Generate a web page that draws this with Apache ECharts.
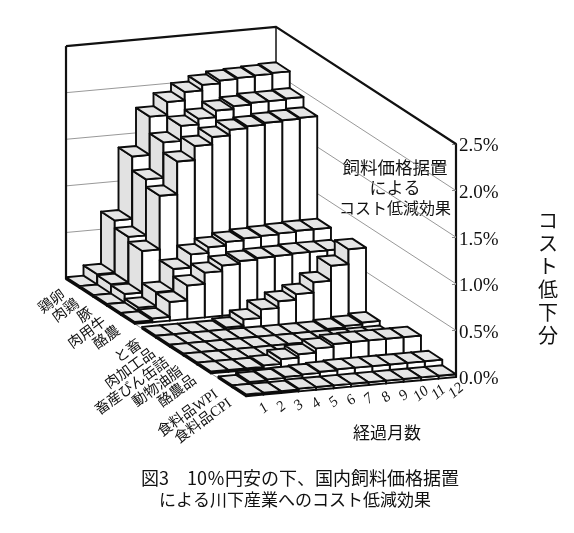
<!DOCTYPE html>
<html><head><meta charset="utf-8">
<style>html,body{margin:0;padding:0;background:#fff}#c{width:574px;height:533px}</style>
<script src="https://cdn.jsdelivr.net/npm/echarts@6/dist/echarts.min.js"></script>
</head><body><div id="c"></div>
<script>
const months = [1,2,3,4,5,6,7,8,9,10,11,12];
const rowNames = ['鶏卵','肉鶏','豚','肉用牛','酪農','と畜','肉加工品','畜産びん缶詰','動物油脂','酪農品','食料品WPI','食料品CPI'];
const yTicks = [0,0.5,1,1.5,2,2.5];
const eggs      = [0.02,0.13,0.69,1.36,1.77,1.91,2.00,2.06,2.09,2.10,2.11,2.12];
const broiler   = [0.02,0.12,0.61,1.21,1.59,1.75,1.81,1.88,1.91,1.93,1.93,1.94];
const pork      = [0.02,0.11,0.555,1.13,1.48,1.63,1.71,1.77,1.79,1.81,1.82,1.83];
const beef      = [0.02,0.06,0.21,0.44,0.58,0.64,0.68,0.70,0.71,0.72,0.73,0.73];
const dairyFarm = [0.02,0.04,0.20,0.36,0.48,0.54,0.57,0.585,0.59,0.60,0.60,0.60];
const slaughter = [0.02,0.02,0.02,0.02,0.04,0.11,0.20,0.27,0.33,0.44,0.60,0.76];
const meatProc  = [0.02,0.02,0.02,0.02,0.02,0.02,0.02,0.02,0.02,0.035,0.05,0.07];
const canned    = [0.02,0.02,0.02,0.02,0.02,0.02,0.02,0.02,0.02,0.02,0.02,0.02];
const animalFat = [0.02,0.02,0.02,0.02,0.02,0.02,0.02,0.02,0.02,0.02,0.02,0.02];
const dairyProd = [0.02,0.02,0.02,0.035,0.085,0.12,0.165,0.195,0.20,0.20,0.20,0.20];
const foodWpi   = [0.02,0.04,0.05,0.06,0.07,0.08,0.09,0.09,0.09,0.09,0.09,0.09];
const foodCpi   = [0.02,0.02,0.02,0.03,0.03,0.03,0.03,0.03,0.03,0.03,0.03,0.03];
const table = [eggs,broiler,pork,beef,dairyFarm,slaughter,meatProc,canned,animalFat,dairyProd,foodWpi,foodCpi];

// oblique projection parameters
const RX = 13.74, RY = 8.94, MSLOPE = 1.6, GAP = 0.55;
const TOTAL = 12 + 2*GAP;
const depthOf = r => r + (r >= 5 ? GAP : 0) + (r >= 10 ? GAP : 0);
function proj(api, m, depth, v){
  const p = api.coord([m, v]), D = TOTAL - depth;
  return [p[0] - D*RX, p[1] + (12-m)*MSLOPE - D*RY];
}
const LINE = '#0c0c0c', SERIF = '"Liberation Serif","Noto Sans CJK JP",serif', JP = '"Noto Sans CJK JP",sans-serif';

const bars = [];
table.forEach((vals, r) => { for (let i = vals.length-1; i >= 0; i--) bars.push([months[i], r, vals[i]]); });

function renderBar(params, api){
  const m = api.value(0), r = api.value(1), v = api.value(2);
  const d0 = depthOf(r), d1 = d0 + 1, m0 = m-1, m1 = m;
  const P = (mm,dd,vv) => proj(api,mm,dd,vv);
  const st = f => ({fill:f, stroke:LINE, lineWidth:1.9, lineJoin:'round'});
  return {type:'group', children:[
    {type:'polygon', shape:{points:[P(m0,d0,0),P(m0,d1,0),P(m0,d1,v),P(m0,d0,v)]}, style:st('#e2e2e2')},
    {type:'polygon', shape:{points:[P(m0,d1,0),P(m1,d1,0),P(m1,d1,v),P(m0,d1,v)]}, style:st('#ffffff')},
    {type:'polygon', shape:{points:[P(m0,d0,v),P(m1,d0,v),P(m1,d1,v),P(m0,d1,v)]}, style:st('#e6e6e6')}
  ]};
}
function renderWalls(params, api){
  const v = api.value(0), P = (m,d,vv) => proj(api,m,d,vv);
  const isTop = v === 2.5;
  if (v === 0) {
    const ch = [5, 10].map(r => ({type:'line', shape:{x1:P(0,depthOf(r)-GAP,0)[0], y1:P(0,depthOf(r)-GAP,0)[1], x2:P(0,depthOf(r),0)[0], y2:P(0,depthOf(r),0)[1]}, style:{stroke:'#888', lineWidth:1}}));
    return {type:'group', children:ch};
  }
  const children = [{type:'polyline', shape:{points:[P(0,0,v),P(12,0,v),P(12,TOTAL,v)]},
    style:{fill:'none', stroke:isTop?'#111':'#999', lineWidth:isTop?2.2:1}}];
  if (isTop) {
    children.push({type:'line', shape:{x1:P(0,0,0)[0],y1:P(0,0,0)[1],x2:P(0,0,v)[0],y2:P(0,0,v)[1]}, style:{stroke:'#111',lineWidth:2.2}});
    children.push({type:'line', shape:{x1:P(12,0,0)[0],y1:P(12,0,0)[1],x2:P(12,0,v)[0],y2:P(12,0,v)[1]}, style:{stroke:'#111',lineWidth:1.5}});
  }
  return {type:'group', children};
}
function renderRowLabel(params, api){
  const r = api.value(0), p = proj(api, 0, depthOf(r)+0.5, 0);
  return {type:'text', x:p[0]-9, y:p[1]+10, rotation:36*Math.PI/180,
    style:{text:rowNames[r], align:'right', verticalAlign:'middle', font:'14.5px '+SERIF, fill:'#111'}};
}
function renderMonthLabel(params, api){
  const m = api.value(0), p = proj(api, m-0.5, TOTAL, 0);
  return {type:'text', x:p[0]+9, y:p[1]+13, rotation:40*Math.PI/180,
    style:{text:String(m), align:'center', verticalAlign:'middle', font:'italic 15px '+SERIF, fill:'#111'}};
}
const txt = (text,x,y,size,extra) => ({type:'text', x, y, silent:true,
  style:Object.assign({text, align:'center', verticalAlign:'middle', font:size+'px '+JP, fill:'#111'}, extra||{})});

const chart = echarts.init(document.getElementById('c'), null, {renderer:'canvas'});
chart.setOption({
  backgroundColor:'#fff', animation:false,
  grid:{left:246, top:144, width:210, height:233},
  xAxis:{type:'value', min:0, max:12, show:false},
  yAxis:{type:'value', position:'right', min:0, max:2.5, interval:0.5, splitLine:{show:false},
    axisLine:{show:true, onZero:false, lineStyle:{color:'#111', width:2.2}},
    axisTick:{show:true, inside:true, length:4, lineStyle:{color:'#888', width:1}},
    axisLabel:{margin:3, color:'#111', formatter:v => '{a|'+v.toFixed(1)+'%}',
      rich:{a:{fontFamily:SERIF, fontSize:19, color:'#111', padding:[5,0,0,0]}}}},
  series:[
    {type:'custom', silent:true, clip:false, data:yTicks.map(v=>[v]), encode:{x:-1,y:-1}, renderItem:renderWalls, z:1},
    {type:'custom', silent:true, clip:false, data:bars, encode:{x:0,y:2}, renderItem:renderBar, z:2},
    {type:'custom', silent:true, clip:false, data:rowNames.map((n,i)=>[i]), encode:{x:-1,y:-1}, renderItem:renderRowLabel, z:3},
    {type:'custom', silent:true, clip:false, data:months.map(m=>[m]), encode:{x:-1,y:-1}, renderItem:renderMonthLabel, z:3}
  ],
  graphic:[
    txt('飼料価格据置',395,167,17.5), txt('による',395,188,17), txt('コスト低減効果',395,208,16),
    txt('コ\nス\nト\n低\n下\n分',548,278,20,{lineHeight:23}),
    txt('経過月数',387,433,17),
    txt('図3　10％円安の下、国内飼料価格据置',300,478,18),
    txt('による川下産業へのコスト低減効果',295,500,17)
  ]
});
</script></body></html>
